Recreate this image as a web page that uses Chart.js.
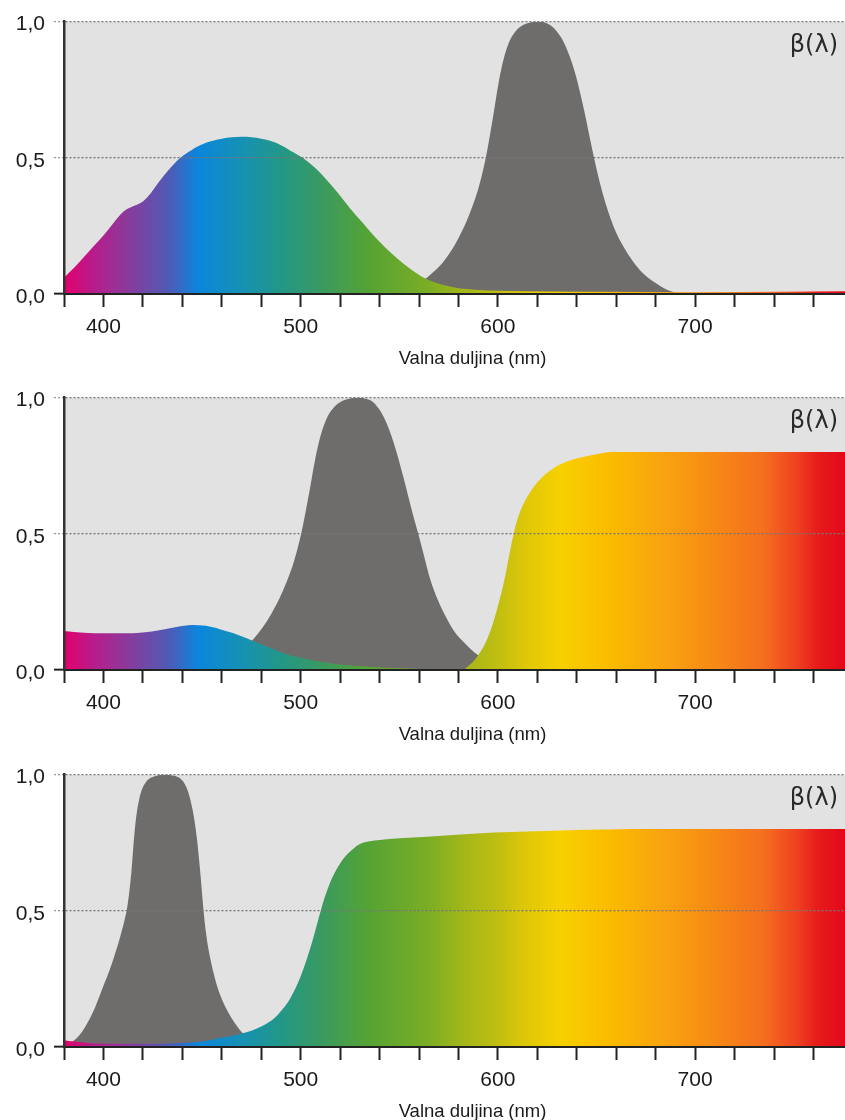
<!DOCTYPE html>
<html>
<head>
<meta charset="utf-8">
<script src="https://cdn.jsdelivr.net/npm/chart.js@4/dist/chart.umd.min.js"></script>
<style>
  body { margin: 0; background: #fff; overflow: hidden; width: 845px; height: 1120px; position: relative; }
  .panel { position: absolute; left: 0; width: 845px; height: 377px; }
</style>
</head>
<body>
<div class="panel" style="top:0px"><canvas id="c1" width="845" height="377"></canvas></div>
<div class="panel" style="top:376px"><canvas id="c2" width="845" height="377"></canvas></div>
<div class="panel" style="top:753px"><canvas id="c3" width="845" height="377"></canvas></div>
<script>
// osi
const xTicks = [380, 400, 420, 440, 460, 480, 500, 520, 540, 560, 580, 600, 620, 640, 660, 680, 700, 720, 740, 760];
const xLabels = [400, 500, 600, 700];
const yTicks = [0, 0.5, 1];

// boje spektra po valnoj duljini
const specStopsNm = [380, 395, 412, 434, 448, 468, 488, 511, 534, 564, 585, 598, 615, 632, 656, 684, 709, 735, 752, 762, 776];
const specStopsCol = ['#e2006c', '#b81c8c', '#8b3a9a', '#4c5cb8', '#0a86dc', '#1590b8', '#20978c', '#3a9a60', '#55a335', '#7aad25',
                      '#a8b818', '#bcbd12', '#e0c808', '#f7d000', '#fbbc00', '#f9a310', '#f78a15', '#f46e1e', '#ee4020', '#e61c1a', '#e3071a'];

// gornji graf
const p1SpecNm  = [380, 385, 390, 395, 400, 405, 409, 412, 416, 420, 424, 428, 433, 439, 445, 452, 460, 470, 480, 488, 495, 501, 507, 513, 519, 525, 531, 537, 543, 549, 555, 561, 567, 574, 581, 590, 600, 650, 700, 740, 776];
const p1SpecVal = [0.06, 0.095, 0.135, 0.175, 0.215, 0.26, 0.295, 0.312, 0.325, 0.34, 0.37, 0.41, 0.455, 0.5, 0.53, 0.555, 0.57, 0.577, 0.57, 0.553, 0.525, 0.5, 0.465, 0.42, 0.37, 0.315, 0.265, 0.215, 0.17, 0.13, 0.095, 0.065, 0.045, 0.03, 0.02, 0.015, 0.012, 0.008, 0.006, 0.008, 0.01];
const p1GrayNm  = [548, 555, 560, 564, 568, 572, 576, 580, 584, 587, 590, 592, 594, 596, 598, 600, 602, 604, 606, 609, 613, 617, 620,
                   624, 627, 630, 633, 636, 639, 642, 644, 646, 648, 650, 652, 654.5, 657, 660, 664, 668, 673, 679, 686, 693];
const p1GrayVal = [0, 0.02, 0.04, 0.06, 0.085, 0.115, 0.155, 0.205, 0.265, 0.32, 0.385, 0.44, 0.505, 0.585, 0.67, 0.76, 0.835, 0.89, 0.93, 0.965, 0.988, 0.998, 1,
                   0.996, 0.985, 0.963, 0.93, 0.88, 0.815, 0.73, 0.665, 0.595, 0.525, 0.46, 0.4, 0.335, 0.28, 0.225, 0.17, 0.125, 0.08, 0.045, 0.015, 0];

// srednji graf
const p2SpecNm  = [380, 390, 400, 410, 420, 429, 437, 445, 452, 459, 466, 472, 478, 485, 492, 500, 510, 520, 535, 550, 565, 578, 582, 585, 588, 591, 594, 597, 600, 602, 604, 606, 608, 610, 613, 617, 622, 628, 635, 642, 650, 658, 680, 720, 776];
const p2SpecVal = [0.143, 0.137, 0.135, 0.135, 0.138, 0.147, 0.158, 0.165, 0.162, 0.15, 0.135, 0.118, 0.1, 0.08, 0.06, 0.045, 0.03, 0.02, 0.012, 0.006, 0.003, 0.001, 0, 0.015, 0.035, 0.065, 0.105, 0.16, 0.235, 0.29, 0.355, 0.43, 0.5, 0.555, 0.61, 0.66, 0.705, 0.74, 0.765, 0.78, 0.792, 0.8, 0.8, 0.8, 0.8];
const p2GrayNm  = [450, 457.5, 463, 467.4, 471.8, 476.2, 480.6, 485, 489.4, 492.7, 496, 498.2, 500.4, 502.6, 504.8, 507, 509.2, 511.4, 513.6, 516.9, 521.3, 525.7, 529,
                   533, 536.5, 540, 543, 546, 549, 552, 555, 557.5, 560, 562.5, 565, 567.5, 570, 574, 578, 583, 588, 594, 600, 606];
const p2GrayVal = [0, 0.02, 0.04, 0.06, 0.085, 0.115, 0.155, 0.205, 0.265, 0.32, 0.385, 0.44, 0.505, 0.585, 0.67, 0.76, 0.835, 0.89, 0.93, 0.965, 0.988, 0.998, 1,
                   0.996, 0.985, 0.955, 0.915, 0.86, 0.79, 0.71, 0.625, 0.555, 0.49, 0.42, 0.35, 0.295, 0.25, 0.19, 0.14, 0.1, 0.065, 0.035, 0.015, 0];

// donji graf
const p3SpecNm  = [380, 385, 392, 400, 420, 440, 452, 459, 466, 470, 475, 480, 484, 488, 491, 494, 497, 500, 503, 506, 509, 512, 515, 518, 521, 524, 527, 530, 535, 540, 550, 564, 598, 632, 680, 776];
const p3SpecVal = [0.025, 0.02, 0.015, 0.012, 0.012, 0.015, 0.022, 0.033, 0.042, 0.05, 0.06, 0.075, 0.092, 0.115, 0.14, 0.17, 0.21, 0.26, 0.32, 0.39, 0.47, 0.545, 0.605, 0.65, 0.685, 0.71, 0.73, 0.745, 0.755, 0.76, 0.766, 0.772, 0.787, 0.795, 0.8, 0.8];
const p3GrayNm  = [380, 384, 388, 392, 396, 400, 403, 406, 408.5, 410.5, 412, 413.2, 414.2, 415, 415.8, 416.7, 418, 419.5, 421.5, 424, 427, 431,
                   435, 438.5, 441, 443, 444.8, 446.2, 447.4, 448.4, 449.3, 450.1, 450.9, 451.8, 453, 454.6, 456.6, 459, 462, 465.5, 469.5, 474, 480, 486];
const p3GrayVal = [0, 0.018, 0.045, 0.09, 0.15, 0.225, 0.28, 0.345, 0.405, 0.46, 0.51, 0.575, 0.645, 0.72, 0.79, 0.85, 0.905, 0.945, 0.972, 0.988, 0.996, 1,
                   0.997, 0.988, 0.968, 0.935, 0.885, 0.83, 0.765, 0.695, 0.625, 0.555, 0.49, 0.43, 0.37, 0.31, 0.25, 0.195, 0.145, 0.1, 0.06, 0.03, 0.01, 0];

const FONT = '"Liberation Sans", Arial, sans-serif';

function pts(xs, ys) {
    return xs.map((x, i) => ({ x: x, y: ys[i] }));
}

// horizontalni gradijent spektra preko x skale
function spectrumFill(ctx) {
    const chart = ctx.chart;
    if (!chart.chartArea) return '#888';
    const xs = chart.scales.x;
    const first = specStopsNm[0];
    const last = specStopsNm[specStopsNm.length - 1];
    const g = chart.ctx.createLinearGradient(xs.getPixelForValue(first), 0, xs.getPixelForValue(last), 0);
    specStopsNm.forEach((nm, i) => g.addColorStop((nm - first) / (last - first), specStopsCol[i]));
    return g;
}

const plotBg = {
    id: 'plotBg',
    beforeDraw(chart) {
        const { ctx, chartArea: a } = chart;
        ctx.save();
        ctx.fillStyle = '#e2e2e2';
        ctx.fillRect(a.left, a.top, a.right - a.left, a.bottom - a.top);
        ctx.restore();
    }
};

const betaLabel = {
    id: 'betaLabel',
    afterDraw(chart) {
        const ctx = chart.ctx;
        ctx.save();
        ctx.fillStyle = '#2a2a2a';
        ctx.font = '24px "DejaVu Sans", sans-serif';
        ctx.textAlign = 'right';
        ctx.textBaseline = 'middle';
        ctx.fillText('β(λ)', 838, 46);
        ctx.restore();
    }
};

const isZero = c => c.tick && c.tick.value === 0;

function makePanel(id, specNm, specVal, grayNm, grayVal) {
    return new Chart(document.getElementById(id), {
        type: 'line',
        data: {
            datasets: [
                {
                    label: 'spektar',
                    data: pts(specNm, specVal),
                    backgroundColor: spectrumFill,
                    borderColor: 'rgba(0,0,0,0)',
                    borderWidth: 0,
                    pointRadius: 0,
                    fill: 'origin',
                    cubicInterpolationMode: 'monotone',
                    order: 0
                },
                {
                    label: 'filtar',
                    data: pts(grayNm, grayVal),
                    backgroundColor: '#6f6d6b',
                    borderColor: 'rgba(0,0,0,0)',
                    borderWidth: 0,
                    pointRadius: 0,
                    fill: 'origin',
                    cubicInterpolationMode: 'monotone',
                    order: 1
                }
            ]
        },
        options: {
            responsive: false,
            animation: false,
            devicePixelRatio: 1,
            layout: { padding: { top: 21, right: 0, left: 0, bottom: 0 } },
            plugins: { legend: { display: false }, tooltip: { enabled: false } },
            scales: {
                x: {
                    type: 'linear',
                    min: 380,
                    max: 776,
                    afterBuildTicks: s => { s.ticks = xTicks.map(v => ({ value: v })); },
                    afterFit: s => { s.height = 83; },
                    ticks: {
                        autoSkip: false,
                        maxRotation: 0,
                        padding: 8,
                        color: '#1a1a1a',
                        font: { family: FONT, size: 21 },
                        callback: v => xLabels.includes(v) ? String(v) : ''
                    },
                    grid: { drawOnChartArea: false, drawTicks: true, tickLength: 13, tickColor: '#222', tickWidth: 2, color: '#222' },
                    border: { display: true, color: '#222', width: 2, z: 2 },
                    title: {
                        display: true,
                        // razmaci pomiču naslov udesno kao na predlošku
                        text: '       Valna duljina (nm)',
                        color: '#1a1a1a',
                        font: { family: FONT, size: 18.5 },
                        padding: { top: 0, bottom: 7 }
                    }
                },
                y: {
                    min: 0,
                    max: 1,
                    afterBuildTicks: s => { s.ticks = yTicks.map(v => ({ value: v })); },
                    afterFit: s => { s.width = 64; },
                    ticks: {
                        padding: 9,
                        labelOffset: 3,
                        color: '#1a1a1a',
                        font: { family: FONT, size: 21 },
                        callback: v => v.toFixed(1).replace('.', ',')
                    },
                    grid: {
                        z: 1,
                        lineWidth: 1.3,
                        color: c => isZero(c) ? 'rgba(0,0,0,0)' : '#777',
                        tickLength: 10,
                        tickColor: c => isZero(c) ? '#222' : '#999',
                        tickWidth: c => isZero(c) ? 2 : 1.3,
                        tickBorderDash: c => isZero(c) ? [] : [2, 2]
                    },
                    border: { display: true, color: '#333', width: 2.5, dash: [2, 2], z: 2 }
                }
            }
        },
        plugins: [plotBg, betaLabel]
    });
}

makePanel('c1', p1SpecNm, p1SpecVal, p1GrayNm, p1GrayVal);
makePanel('c2', p2SpecNm, p2SpecVal, p2GrayNm, p2GrayVal);
makePanel('c3', p3SpecNm, p3SpecVal, p3GrayNm, p3GrayVal);
</script>
</body>
</html>
